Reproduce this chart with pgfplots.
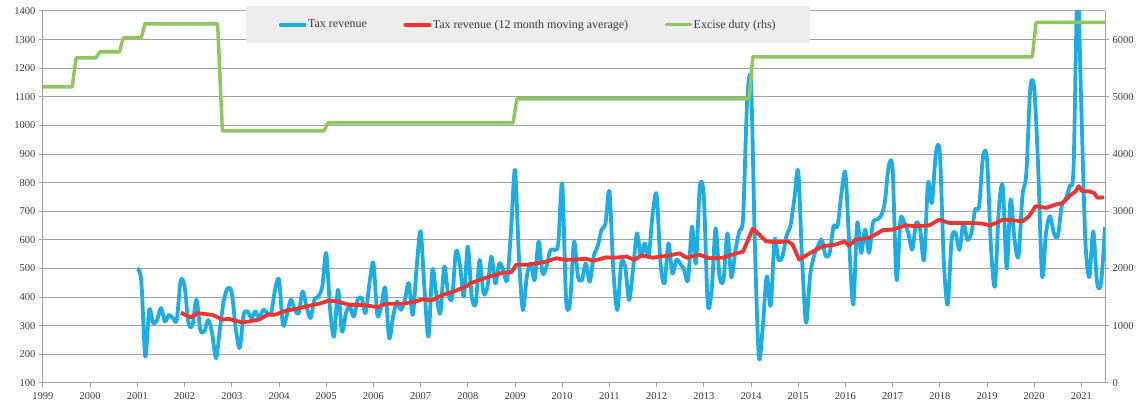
\documentclass[border=0pt]{standalone}
\usepackage{fontspec}
\setmainfont{Liberation Serif}
\usepackage{pgfplots}
\pgfplotsset{compat=1.18}
\definecolor{taxblue}{HTML}{1DADE3}
\definecolor{taxred}{HTML}{EC3431}
\definecolor{excgreen}{HTML}{8CC85F}
\definecolor{gridgray}{HTML}{A0A0A0}
\definecolor{labgray}{HTML}{3A3A3A}
\begin{document}
\begin{tikzpicture}
\useasboundingbox (0pt,0pt) rectangle (1146pt,409pt);
\pgfplotsset{
  common/.style={
    at={(43pt,26pt)}, anchor=south west,
    scale only axis, width=1062pt, height=372pt,
    xmin=1999, xmax=2021.5,
    /pgf/number format/assume math mode=true,
    /pgf/number format/1000 sep={},
    tick label style={font=\fontsize{10.5}{12}\selectfont, text=labgray},
    axis line style={gridgray, line width=1pt},
    tick style={gridgray, line width=1pt},
    tick align=outside, major tick length=4pt, minor tick length=4pt,
  }
}
\begin{axis}[common,
  ymin=100, ymax=1400,
  xtick={1999,2000,...,2021}, minor x tick num=1,
  ytick={100,200,...,1400},
  xtick pos=bottom, ytick pos=left,
  xticklabel style={yshift=-2pt},
  ymajorgrids, grid style={gridgray, line width=1pt},
  axis x line*=bottom, axis y line*=left,
]
\addplot[taxblue, line width=3.8pt, smooth, tension=0.5, line join=round] coordinates {
(2001.000,500)(2001.083,455)(2001.167,192)(2001.250,356)(2001.333,309)(2001.417,320)(2001.500,362)(2001.583,315)(2001.667,338)(2001.750,327)(2001.833,320)(2001.917,458)
(2002.000,437)(2002.083,309)(2002.167,303)(2002.250,391)(2002.333,286)(2002.417,280)(2002.500,320)(2002.583,274)(2002.667,187)(2002.750,292)(2002.833,391)(2002.917,432)
(2003.000,414)(2003.083,292)(2003.167,222)(2003.250,338)(2003.333,350)(2003.417,327)(2003.500,350)(2003.583,327)(2003.667,356)(2003.750,344)(2003.833,344)(2003.917,426)
(2004.000,461)(2004.083,303)(2004.167,338)(2004.250,391)(2004.333,356)(2004.417,344)(2004.500,420)(2004.583,367)(2004.667,327)(2004.750,391)(2004.833,402)(2004.917,437)
(2005.000,554)(2005.083,356)(2005.167,262)(2005.250,426)(2005.333,280)(2005.417,344)(2005.500,367)(2005.583,332)(2005.667,391)(2005.750,397)(2005.833,344)(2005.917,449)
(2006.000,519)(2006.083,338)(2006.167,367)(2006.250,432)(2006.333,257)(2006.417,332)(2006.500,385)(2006.583,356)(2006.667,391)(2006.750,449)(2006.833,338)(2006.917,507)
(2007.000,630)(2007.083,426)(2007.167,262)(2007.250,496)(2007.333,409)(2007.417,344)(2007.500,507)(2007.583,414)(2007.667,397)(2007.750,560)(2007.833,513)(2007.917,402)
(2008.000,577)(2008.083,402)(2008.167,378)(2008.250,530)(2008.333,413)(2008.417,437)(2008.500,542)(2008.583,448)(2008.667,518)(2008.750,495)(2008.833,460)(2008.917,635)
(2009.000,845)(2009.083,542)(2009.167,355)(2009.250,472)(2009.333,518)(2009.417,460)(2009.500,594)(2009.583,483)(2009.667,507)(2009.750,565)(2009.833,565)(2009.917,588)
(2010.000,798)(2010.083,390)(2010.167,384)(2010.250,594)(2010.333,472)(2010.417,460)(2010.500,518)(2010.583,454)(2010.667,542)(2010.750,577)(2010.833,635)(2010.917,658)
(2011.000,769)(2011.083,495)(2011.167,355)(2011.250,518)(2011.333,507)(2011.417,390)(2011.500,495)(2011.583,623)(2011.667,542)(2011.750,588)(2011.833,542)(2011.917,693)
(2012.000,758)(2012.083,518)(2012.167,448)(2012.250,588)(2012.333,483)(2012.417,530)(2012.500,518)(2012.583,495)(2012.667,460)(2012.750,647)(2012.833,518)(2012.917,787)
(2013.000,752)(2013.083,378)(2013.167,425)(2013.250,641)(2013.333,472)(2013.417,460)(2013.500,623)(2013.583,470)(2013.667,560)(2013.750,630)(2013.833,680)(2013.917,1080)
(2014.000,1150)(2014.083,578)(2014.167,190)(2014.250,298)(2014.333,473)(2014.417,370)(2014.500,601)(2014.583,531)(2014.667,543)(2014.750,613)(2014.833,648)(2014.917,741)
(2015.000,840)(2015.083,531)(2015.167,310)(2015.250,473)(2015.333,543)(2015.417,578)(2015.500,601)(2015.583,543)(2015.667,555)(2015.750,648)(2015.833,648)(2015.917,764)
(2016.000,834)(2016.083,578)(2016.167,374)(2016.250,659)(2016.333,555)(2016.417,636)(2016.500,555)(2016.583,659)(2016.667,671)(2016.750,683)(2016.833,729)(2016.917,858)
(2017.000,846)(2017.083,461)(2017.167,671)(2017.250,659)(2017.333,624)(2017.417,566)(2017.500,659)(2017.583,636)(2017.667,531)(2017.750,799)(2017.833,729)(2017.917,904)
(2018.000,904)(2018.083,531)(2018.167,374)(2018.250,601)(2018.333,624)(2018.417,566)(2018.500,659)(2018.583,601)(2018.667,624)(2018.750,706)(2018.833,718)(2018.917,893)
(2019.000,881)(2019.083,578)(2019.167,438)(2019.250,706)(2019.333,788)(2019.417,500)(2019.500,741)(2019.583,601)(2019.667,543)(2019.750,753)(2019.833,834)(2019.917,1130)
(2020.000,1130)(2020.083,858)(2020.167,473)(2020.250,624)(2020.333,683)(2020.417,624)(2020.500,613)(2020.583,718)(2020.667,741)(2020.750,788)(2020.833,850)(2020.917,1480)
(2021.000,1050)(2021.083,600)(2021.167,470)(2021.250,630)(2021.333,450)(2021.417,450)(2021.500,645)
};
\addplot[taxred, line width=3.8pt, line join=round] coordinates {
(2001.92,346)(2002.13,329)(2002.27,344)(2002.59,338)(2002.80,322)(2002.94,324)(2003.23,311)(2003.58,322)(2003.76,339)(2003.93,339)
(2004.14,352)(2004.43,362)(2004.64,370)(2004.85,377)(2005.06,388)(2005.24,385)(2005.49,373)(2005.77,373)(2006.09,365)(2006.27,377)
(2006.62,377)(2006.90,385)(2007.04,393)(2007.22,388)(2007.47,408)(2007.71,420)(2008.00,440)(2008.04,448)(2008.25,460)(2008.46,472)
(2008.60,478)(2008.74,486)(2008.92,486)(2009.02,513)(2009.24,513)(2009.45,518)(2009.66,524)(2009.87,536)(2010.08,530)(2010.30,532)
(2010.51,534)(2010.65,527)(2010.93,539)(2011.14,538)(2011.36,542)(2011.53,530)(2011.67,546)(2011.92,538)(2012.20,544)(2012.49,553)
(2012.63,538)(2012.91,548)(2013.12,536)(2013.41,538)(2013.62,550)(2013.83,559)(2014.04,640)(2014.14,624)(2014.32,595)(2014.53,592)
(2014.78,595)(2014.88,584)(2015.02,531)(2015.20,549)(2015.38,566)(2015.52,578)(2015.80,584)(2015.98,595)(2016.08,580)(2016.22,601)
(2016.51,607)(2016.79,634)(2017.00,636)(2017.28,651)(2017.49,648)(2017.78,651)(2017.99,671)(2018.20,659)(2018.48,659)(2018.69,659)
(2018.90,657)(2019.05,651)(2019.19,659)(2019.33,671)(2019.54,669)(2019.75,665)(2019.89,683)(2020.03,718)(2020.25,712)(2020.46,724)
(2020.60,729)(2020.74,753)(2020.88,770)(2020.94,788)(2021.02,770)(2021.16,770)(2021.27,764)(2021.34,747)(2021.48,749)
};
\end{axis}
\begin{axis}[common,
  ymin=0, ymax=6500,
  ytick={0,1000,...,6000},
  axis y line*=right, axis x line=none,
  legend columns=3,
  legend image code/.code={\draw[#1, line cap=round] (0pt,0pt) -- (24pt,0pt);},
  legend style={at={(0.4567,1.0134)}, anchor=north, fill=black!7, draw=none,
    inner xsep=33pt, inner ysep=11.5pt,
    font=\fontsize{12}{14}\selectfont, text=labgray,
    /tikz/every even column/.append style={column sep=35pt},
    nodes={inner xsep=1.5pt}},
]
\addlegendimage{taxblue, line width=3.8pt}
\addlegendentry{Tax revenue}
\addlegendimage{taxred, line width=3.8pt}
\addlegendentry{Tax revenue (12 month moving average)}
\addplot[excgreen, line width=3.5pt, line join=round] coordinates {
(1999.00,5175)(1999.62,5175)(1999.70,5680)(2000.12,5680)(2000.20,5785)(2000.62,5785)(2000.70,6030)(2001.08,6030)(2001.16,6275)
(2002.70,6275)(2002.80,4405)(2004.95,4405)(2005.03,4545)(2008.96,4545)(2009.04,4965)(2013.96,4965)(2014.04,5700)(2019.96,5700)
(2020.04,6300)(2021.50,6300)
};
\addlegendentry{Excise duty (rhs)}
\end{axis}
\end{tikzpicture}
\end{document}
